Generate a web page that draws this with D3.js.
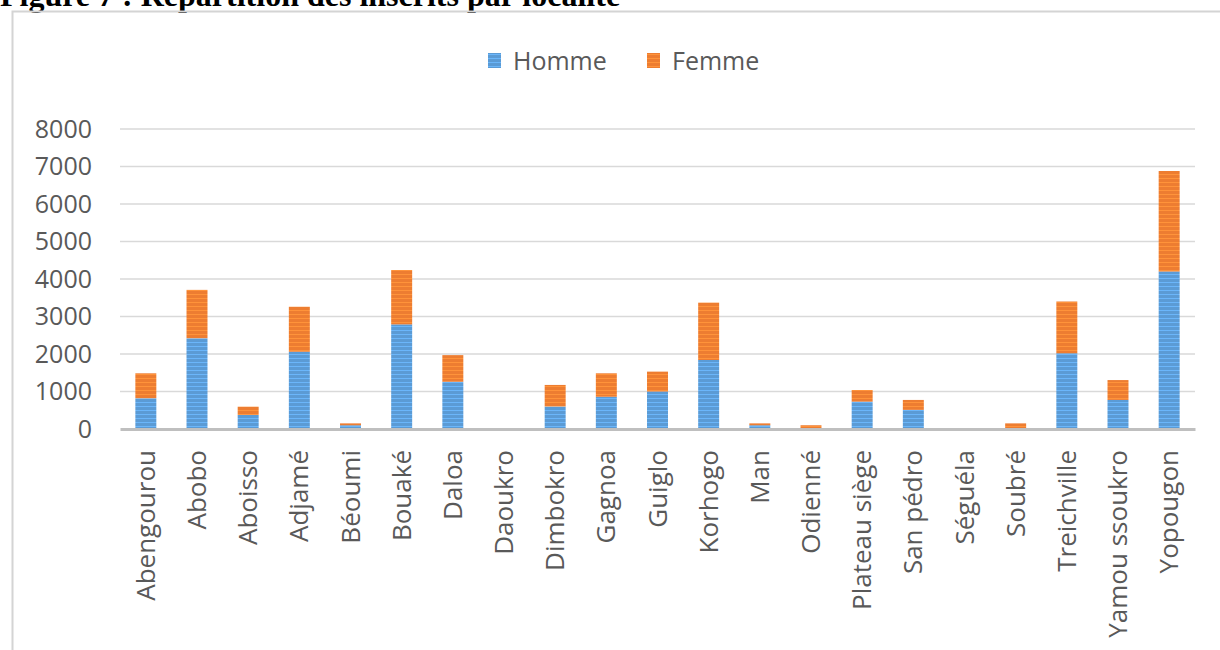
<!DOCTYPE html>
<html>
<head>
<meta charset="utf-8">
<script src="https://cdn.jsdelivr.net/npm/d3@7"></script>
<style>
  body { margin: 0; background: #fff; }
  svg { display: block; }
</style>
</head>
<body>
<svg id="chart" width="1220" height="650"></svg>
<script>
// localités
var localites = ["Abengourou", "Abobo", "Aboisso", "Adjamé", "Béoumi", "Bouaké", "Daloa", "Daoukro",
    "Dimbokro", "Gagnoa", "Guiglo", "Korhogo", "Man", "Odienné", "Plateau  siège", "San pédro",
    "Séguéla", "Soubré", "Treichville", "Yamou ssoukro", "Yopougon"];
var homme = [820, 2420, 375, 2060, 100, 2790, 1260, 0, 600, 860, 1000, 1840, 100, 10, 730, 510, 0, 0, 2020, 775, 4200];
var femme = [665, 1290, 220, 1200, 50, 1450, 710, 0, 575, 625, 530, 1530, 50, 90, 310, 265, 0, 150, 1380, 530, 2680];
var yTicks = [0, 1000, 2000, 3000, 4000, 5000, 6000, 7000, 8000];
var series = ["Homme", "Femme"];
var colors = ["#5B9BD5", "#ED7D31"];
var titre = "Figure 7 : Répartition des inscrits par localité";

var svg = d3.select("#chart");
var W = 1220, H = 650;

// titre (coupé en haut comme sur l'original)
svg.append("text")
    .attr("x", 0).attr("y", 6)
    .attr("font-family", "Liberation Serif")
    .attr("font-weight", "bold")
    .attr("font-size", 32)
    .attr("fill", "#000")
    .text(titre);

// cadre du graphique
svg.append("rect")
    .attr("x", 12.5).attr("y", 11.5)
    .attr("width", W).attr("height", H)
    .attr("fill", "none")
    .attr("stroke", "#d4d4d4")
    .attr("stroke-width", 2);

// motifs rayés
var defs = svg.append("defs");
colors.forEach(function (c, i) {
    var p = defs.append("pattern")
        .attr("id", "rayure" + i)
        .attr("patternUnits", "userSpaceOnUse")
        .attr("width", 6).attr("height", 4);
    p.append("rect").attr("width", 6).attr("height", 4).attr("fill", c);
    p.append("rect").attr("y", 2).attr("width", 6).attr("height", 1)
        .attr("fill", d3.color(c).brighter(0.45));
});

var x = d3.scaleBand().domain(localites).range([120, 1195]).paddingInner(0.59).paddingOuter(0.3);
var y = d3.scaleLinear().domain([0, 8000]).range([429, 129]);

// grille
svg.append("g").selectAll("line").data(yTicks.slice(1)).enter()
    .append("line")
    .attr("x1", 120).attr("x2", 1195)
    .attr("y1", function (d) { return y(d); })
    .attr("y2", function (d) { return y(d); })
    .attr("stroke", "#d9d9d9")
    .attr("stroke-width", 1.5);

// axe y
var yAxis = svg.append("g")
    .attr("transform", "translate(120,0)")
    .call(d3.axisLeft(y).tickValues(yTicks).tickFormat(d3.format("d")).tickSize(0).tickPadding(28));
yAxis.select(".domain").remove();
yAxis.selectAll("text")
    .attr("font-family", "Open Sans")
    .attr("font-size", 25)
    .attr("fill", "#595959");

// barres empilées
var table = localites.map(function (l, i) { return { loc: l, Homme: homme[i], Femme: femme[i] }; });
var stack = d3.stack().keys(series)(table);

svg.append("g").selectAll("g").data(stack).enter()
    .append("g")
    .attr("fill", function (d, i) { return "url(#rayure" + i + ")"; })
    .selectAll("rect").data(function (d) { return d; }).enter()
    .append("rect")
    .attr("x", function (d) { return x(d.data.loc); })
    .attr("width", x.bandwidth())
    .attr("y", function (d) { return y(d[1]); })
    .attr("height", function (d) { return y(d[0]) - y(d[1]); });

// axe x
var xAxis = svg.append("g")
    .attr("transform", "translate(0,429)")
    .call(d3.axisBottom(x).tickSize(0).tickPadding(0));
xAxis.select(".domain")
    .attr("stroke", "#bfbfbf")
    .attr("stroke-width", 3);
xAxis.selectAll("text")
    .attr("font-family", "Open Sans")
    .attr("font-size", 26)
    .attr("fill", "#595959")
    .attr("text-anchor", "end")
    .attr("dy", "0.35em")
    .attr("transform", "translate(0,21) rotate(-90)");

// légende
var leg = svg.append("g");
var legX = [488, 647];
series.forEach(function (s, i) {
    leg.append("rect")
        .attr("x", legX[i]).attr("y", 53)
        .attr("width", 13).attr("height", 15)
        .attr("fill", "url(#rayure" + i + ")");
    leg.append("text")
        .attr("x", legX[i] + 25).attr("y", 61)
        .attr("dy", "0.35em")
        .attr("font-family", "Open Sans")
        .attr("font-size", 25)
        .attr("fill", "#595959")
        .text(s);
});
</script>
</body>
</html>
